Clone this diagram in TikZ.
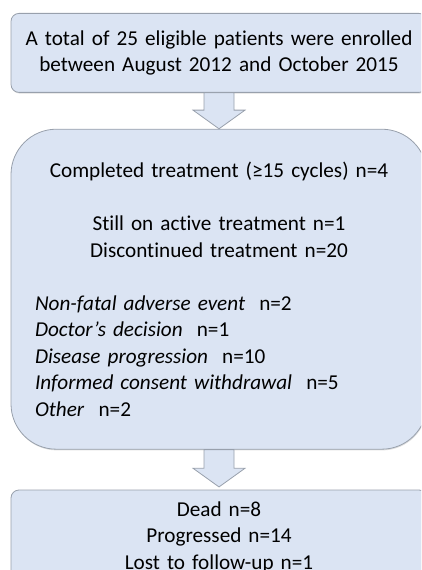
\documentclass[tikz,border=0pt]{standalone}
\usepackage{fontspec}
\setmainfont{Carlito}[Ligatures=NoCommon]
\usetikzlibrary{positioning,calc,shadows}

\definecolor{boxfill}{RGB}{219,228,243}
\definecolor{boxline}{RGB}{152,160,172}

\tikzset{
    flowbox/.style={draw=boxline, fill=boxfill, line width=0.6pt,
        minimum width=312pt, inner xsep=18pt, text width=276pt, align=center,
        font=\fontsize{15.9pt}{19.9pt}\selectfont,
        drop shadow={opacity=0.25, shadow xshift=0.4pt, shadow yshift=-0.9pt}},
    fatarrow/.style={draw=boxline, fill=boxfill, line width=0.6pt, line join=miter}
}

\newcommand{\reason}[2]{\makebox[276pt][l]{\itshape #1\/\upshape\ \ #2}}

\begin{document}
\begin{tikzpicture}
    \useasboundingbox (0,0) rectangle (315.75pt,-427.5pt);
    \clip (0,0) rectangle (315.75pt,-427.5pt);

    % boxes
    \node[flowbox, anchor=north, minimum height=59.25pt, rounded corners=6pt,
          inner xsep=4pt, text width=304pt]
        (enrol) at (164.25pt,-9.75pt)
        {A total of 25 eligible patients were enrolled\\between August 2012 and October 2015};

    \node[flowbox, below=27pt of enrol, minimum height=240pt, rounded corners=34pt] (treat)
        {Completed treatment (≥15 cycles) n=4\\[19.9pt]
         Still on active treatment n=1\\
         Discontinued treatment n=20\\[19.9pt]
         \reason{Non-fatal adverse event}{n=2}\\
         \reason{Doctor’s decision}{n=1}\\
         \reason{Disease progression}{n=10}\\
         \reason{Informed consent withdrawal}{n=5}\\
         \reason{Other}{n=2}};

    \node[flowbox, below=30pt of treat, minimum height=71pt, rounded corners=6pt] (outcome)
        {Dead n=8\\Progressed n=14\\Lost to follow-up n=1};

    % block arrows
    \draw[fatarrow] ($(enrol.south)+(-11.25pt,0)$) -- ($(treat.north)+(-11.25pt,14pt)$)
        -- ($(treat.north)+(-19.5pt,14pt)$) -- (treat.north)
        -- ($(treat.north)+(19.5pt,14pt)$) -- ($(treat.north)+(11.25pt,14pt)$)
        -- ($(enrol.south)+(11.25pt,0)$) -- cycle;

    \draw[fatarrow] ($(treat.south)+(-11.25pt,0)$) -- ($(outcome.north)+(-11.25pt,16pt)$)
        -- ($(outcome.north)+(-19.5pt,16pt)$) -- ($(outcome.north)+(0,2pt)$)
        -- ($(outcome.north)+(19.5pt,16pt)$) -- ($(outcome.north)+(11.25pt,16pt)$)
        -- ($(treat.south)+(11.25pt,0)$) -- cycle;
\end{tikzpicture}
\end{document}
